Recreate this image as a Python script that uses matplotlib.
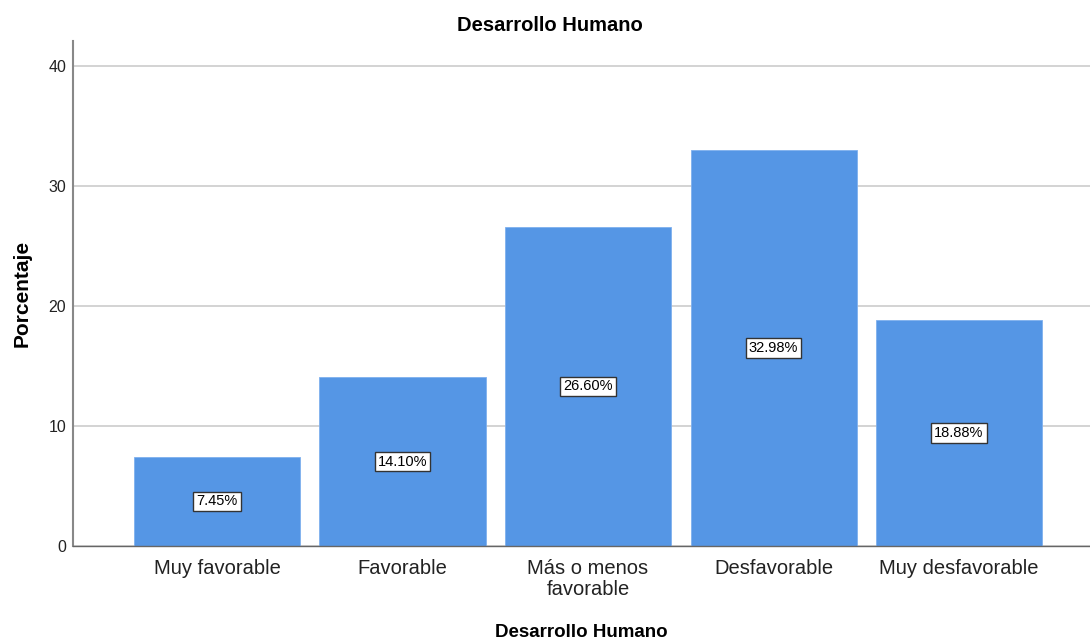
import matplotlib
matplotlib.use("Agg")
import matplotlib.pyplot as plt

plt.rcParams["font.family"] = ["Liberation Sans", "DejaVu Sans"]

# data
categories = ["Muy favorable", "Favorable", "Más o menos\nfavorable",
              "Desfavorable", "Muy desfavorable"]
percentages = [7.45, 14.10, 26.60, 32.98, 18.88]

BAR_COLOR = "#5596e5"

fig = plt.figure(figsize=(10.9, 6.41), dpi=100)
ax = fig.add_axes([0.067, 0.148, 0.933, 0.788])

x = list(range(len(categories)))
ax.bar(x, percentages, width=0.895, color=BAR_COLOR, edgecolor="#7fb0ee",
       linewidth=0.6, zorder=2)

# value boxes in the middle of each bar
for xi, val in zip(x, percentages):
    ax.text(xi, val / 2, f"{val:.2f}%", ha="center", va="center", fontsize=10.5,
            color="black", zorder=3,
            bbox=dict(boxstyle="square,pad=0.2", facecolor="white",
                      edgecolor="#333333", linewidth=1.0))

ax.set_xlim(-0.776, 4.706)
ax.set_ylim(0, 42.08)
ax.set_yticks([0, 10, 20, 30, 40])
ax.set_xticks(x)
ax.set_xticklabels(categories, fontsize=14.5, color="#222222", linespacing=1.15)
ax.tick_params(axis="y", length=0, labelsize=11.5, pad=5, colors="#222222")
ax.tick_params(axis="x", length=0, pad=9)

ax.grid(axis="y", color="#cccccc", linewidth=1.2, zorder=0)
ax.set_axisbelow(True)

for side in ("top", "right"):
    ax.spines[side].set_visible(False)
ax.spines["left"].set_color("#888888")
ax.spines["left"].set_linewidth(1.5)
ax.spines["bottom"].set_color("#666666")
ax.spines["bottom"].set_linewidth(1.0)

ax.set_title("Desarrollo Humano", fontsize=14.5, fontweight="bold", pad=7,
             x=0.469)
ax.set_xlabel("Desarrollo Humano", fontsize=13.5, fontweight="bold", labelpad=18)
ax.set_ylabel("Porcentaje", fontsize=15, fontweight="bold", labelpad=12)

fig.savefig("out.png", dpi=100)
